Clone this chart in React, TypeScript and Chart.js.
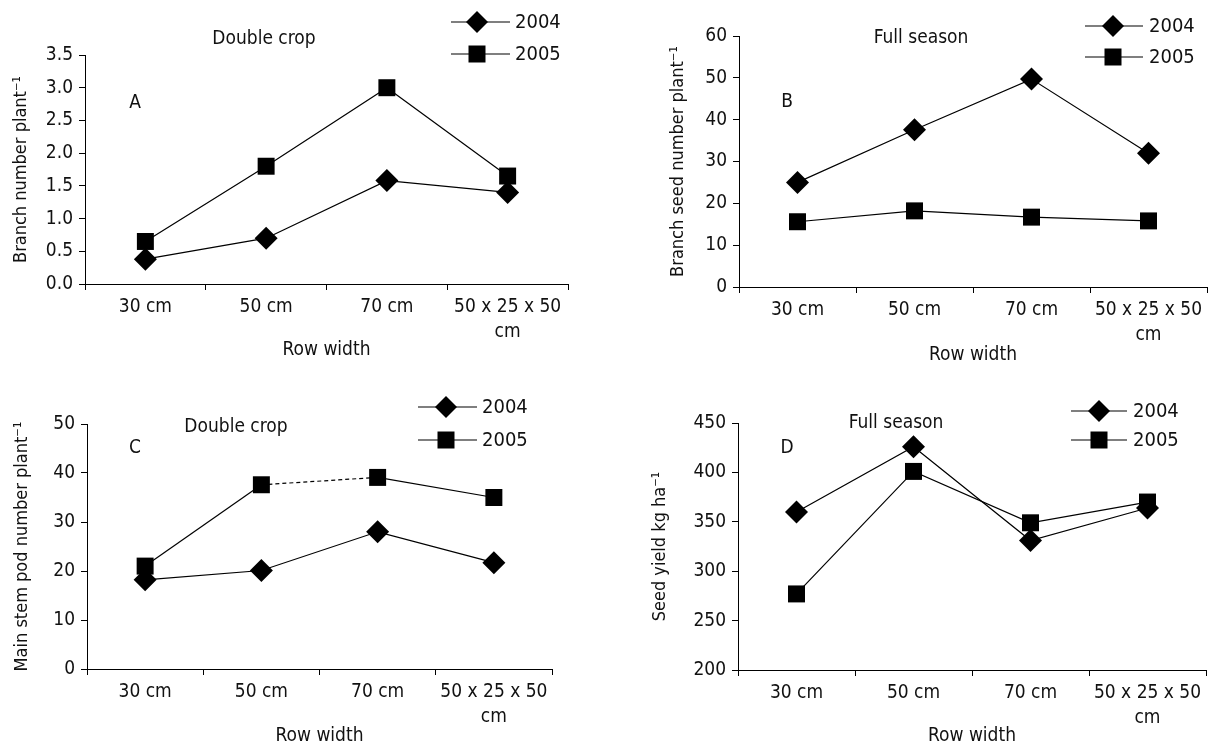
import React, { useEffect, useRef } from "react";
import { Chart, registerables } from "chart.js";

Chart.register(...registerables);

// ---------- data ----------
const rowWidths: (string | string[])[] = ["30 cm", "50 cm", "70 cm", ["50 x 25 x 50", "cm"]];
const seriesYears = ["2004", "2005"];

const branchNumber2004 = [0.38, 0.7, 1.58, 1.4];
const branchNumber2005 = [0.65, 1.8, 3.0, 1.65];

const branchSeed2004 = [25, 37.6, 49.7, 32];
const branchSeed2005 = [15.6, 18.2, 16.7, 15.8];

const mainStemPod2004 = [18.2, 20.1, 28, 21.7];
const mainStemPod2005 = [21, 37.6, 39.1, 35];
const mainStemPod2005DashedSegments = [1];

const seedYield2004 = [360, 426, 331, 364];
const seedYield2005 = [277, 401, 349, 370];

// y-axis ranges: [min, max, step]
const rangeA = [0, 3.5, 0.5];
const rangeB = [0, 60, 10];
const rangeC = [0, 50, 10];
const rangeD = [200, 450, 50];

const FONT = "'DejaVu Sans Condensed', 'DejaVu Sans', sans-serif";
const INK = "#111";
const TICK_SIZE = 19;
const TITLE_SIZE = 19;

type PanelCfg = {
  left: number; top: number; W: number; H: number;
  chartLeft: number; chartTop: number; chartRight: number; chartBottom: number;
  yTitleX: number; xTitleY: number;
  yTitle: string; range: number[]; decimals: number;
  s2004: number[]; s2005: number[]; dashed?: number[];
  title: string; titleX: number; titleY: number;
  letter: string; letterX: number; letterY: number;
  legMarkerX: number; legY: number[]; legLine: number[]; legTextX: number;
};

const panelTextPlugin = {
  id: "panelText",
  afterDraw(chart: any, _args: any, o: any) {
    const ctx = chart.ctx as CanvasRenderingContext2D;
    ctx.save();
    ctx.fillStyle = INK;
    ctx.textAlign = "center";
    ctx.textBaseline = "middle";
    ctx.font = `19px ${FONT}`;
    ctx.fillText(o.title, o.titleX, o.titleY);
    ctx.fillText(o.letter, o.letterX, o.letterY);
    // legend
    for (let i = 0; i < o.years.length; i++) {
      const y = o.legY[i];
      ctx.strokeStyle = "#000";
      ctx.lineWidth = 1.2;
      ctx.beginPath();
      ctx.moveTo(o.legLine[0], y);
      ctx.lineTo(o.legLine[1], y);
      ctx.stroke();
      ctx.fillStyle = "#000";
      ctx.beginPath();
      const x = o.legMarkerX;
      if (i === 0) {
        const r = 11;
        ctx.moveTo(x, y - r);
        ctx.lineTo(x + r, y);
        ctx.lineTo(x, y + r);
        ctx.lineTo(x - r, y);
        ctx.closePath();
      } else {
        const h = 8.5;
        ctx.rect(x - h, y - h, 2 * h, 2 * h);
      }
      ctx.fill();
      ctx.fillStyle = INK;
      ctx.textAlign = "left";
      ctx.font = `20px ${FONT}`;
      ctx.fillText(o.years[i], o.legTextX, y + 1);
      ctx.textAlign = "center";
    }
    ctx.restore();
  },
};

function Panel({ cfg }: { cfg: PanelCfg }) {
  const ref = useRef<HTMLCanvasElement>(null);
  useEffect(() => {
    if (!ref.current) return;
    const halfTitle = TITLE_SIZE / 2;
    const padLeft = Math.max(0, cfg.yTitleX - halfTitle);
    const padBottom = Math.max(0, cfg.H - cfg.xTitleY - halfTitle);
    const dashed = cfg.dashed || [];
    const chart = new Chart(ref.current, {
      type: "line",
      data: {
        labels: rowWidths as any,
        datasets: [
          {
            label: seriesYears[0],
            data: cfg.s2004,
            borderColor: "#000",
            backgroundColor: "#000",
            borderWidth: 1.2,
            pointStyle: "rectRot",
            pointRadius: 11.5,
            pointHoverRadius: 11.5,
            pointBorderWidth: 0,
            tension: 0,
          },
          {
            label: seriesYears[1],
            data: cfg.s2005,
            borderColor: "#000",
            backgroundColor: "#000",
            borderWidth: 1.2,
            pointStyle: "rect",
            pointRadius: 12,
            pointHoverRadius: 12,
            pointBorderWidth: 0,
            tension: 0,
            segment: {
              borderDash: (c: any) => (dashed.includes(c.p0DataIndex) ? [4, 3] : undefined),
            },
          },
        ],
      },
      options: {
        animation: false,
        responsive: false,
        events: [],
        layout: {
          padding: {
            left: padLeft,
            top: cfg.chartTop,
            right: cfg.W - cfg.chartRight,
            bottom: padBottom,
          },
        },
        plugins: {
          legend: { display: false },
          tooltip: { enabled: false },
          panelText: {
            title: cfg.title, titleX: cfg.titleX, titleY: cfg.titleY,
            letter: cfg.letter, letterX: cfg.letterX, letterY: cfg.letterY,
            years: seriesYears, legMarkerX: cfg.legMarkerX, legY: cfg.legY,
            legLine: cfg.legLine, legTextX: cfg.legTextX,
          },
        } as any,
        scales: {
          x: {
            type: "category",
            offset: true,
            grid: {
              offset: true,
              drawOnChartArea: false,
              drawTicks: true,
              tickLength: 6,
              color: "#000",
            },
            border: { display: true, color: "#000", width: 1 },
            ticks: {
              color: INK,
              font: { family: FONT, size: TICK_SIZE, lineHeight: 1.3 },
              padding: 5,
              autoSkip: false,
              maxRotation: 0,
              minRotation: 0,
            },
            title: {
              display: true,
              text: "Row width",
              color: INK,
              font: { family: FONT, size: TITLE_SIZE, lineHeight: 1.0 },
              padding: 0,
            },
            afterFit: (s: any) => {
              s.height = cfg.H - padBottom - cfg.chartBottom;
            },
          },
          y: {
            type: "linear",
            min: cfg.range[0],
            max: cfg.range[1],
            grid: {
              drawOnChartArea: false,
              drawTicks: true,
              tickLength: 6,
              color: "#000",
            },
            border: { display: true, color: "#000", width: 1 },
            ticks: {
              stepSize: cfg.range[2],
              color: INK,
              font: { family: FONT, size: TICK_SIZE },
              padding: 6,
              callback: (v: any) => Number(v).toFixed(cfg.decimals),
            },
            title: {
              display: true,
              text: cfg.yTitle,
              color: INK,
              font: { family: FONT, size: 18, lineHeight: 1.0 },
              padding: 0,
            },
            afterFit: (s: any) => {
              s.width = cfg.chartLeft - padLeft;
            },
          },
        },
      },
      plugins: [panelTextPlugin as any],
    });
    return () => chart.destroy();
  }, [cfg]);
  return (
    <canvas
      ref={ref}
      width={cfg.W}
      height={cfg.H}
      style={{ position: "absolute", left: cfg.left, top: cfg.top, width: cfg.W, height: cfg.H }}
    />
  );
}

const panels: PanelCfg[] = [
  {
    left: 0, top: 0, W: 609, H: 373,
    chartLeft: 85, chartTop: 55, chartRight: 568, chartBottom: 284,
    yTitleX: 22, xTitleY: 350,
    yTitle: "Branch number plant⁻¹", range: rangeA, decimals: 1,
    s2004: branchNumber2004, s2005: branchNumber2005,
    title: "Double crop", titleX: 264, titleY: 39,
    letter: "A", letterX: 135, letterY: 103,
    legMarkerX: 477, legY: [22, 54], legLine: [451, 510], legTextX: 515,
  },
  {
    left: 609, top: 0, W: 610, H: 373,
    chartLeft: 130, chartTop: 36, chartRight: 606, chartBottom: 287,
    yTitleX: 70, xTitleY: 355,
    yTitle: "Branch seed number plant⁻¹", range: rangeB, decimals: 0,
    s2004: branchSeed2004, s2005: branchSeed2005,
    title: "Full season", titleX: 312, titleY: 38,
    letter: "B", letterX: 178, letterY: 102,
    legMarkerX: 504, legY: [26, 57], legLine: [476, 534], legTextX: 540,
  },
  {
    left: 0, top: 373, W: 609, H: 373,
    chartLeft: 87, chartTop: 51, chartRight: 552, chartBottom: 296,
    yTitleX: 23, xTitleY: 365,
    yTitle: "Main stem pod number plant⁻¹", range: rangeC, decimals: 0,
    s2004: mainStemPod2004, s2005: mainStemPod2005, dashed: mainStemPod2005DashedSegments,
    title: "Double crop", titleX: 236, titleY: 54,
    letter: "C", letterX: 135, letterY: 75,
    legMarkerX: 446, legY: [34, 67], legLine: [418, 477], legTextX: 482,
  },
  {
    left: 609, top: 373, W: 610, H: 373,
    chartLeft: 129, chartTop: 50, chartRight: 597, chartBottom: 297,
    yTitleX: 52, xTitleY: 363,
    yTitle: "Seed yield kg ha⁻¹", range: rangeD, decimals: 0,
    s2004: seedYield2004, s2005: seedYield2005,
    title: "Full season", titleX: 287, titleY: 50,
    letter: "D", letterX: 178, letterY: 75,
    legMarkerX: 490, legY: [38, 67], legLine: [462, 518], legTextX: 524,
  },
];

export default function App() {
  return (
    <div style={{ position: "absolute", left: 0, top: 0, width: 1219, height: 746, background: "#fff", overflow: "hidden" }}>
      {panels.map((p, i) => (
        <Panel key={i} cfg={p} />
      ))}
    </div>
  );
}
